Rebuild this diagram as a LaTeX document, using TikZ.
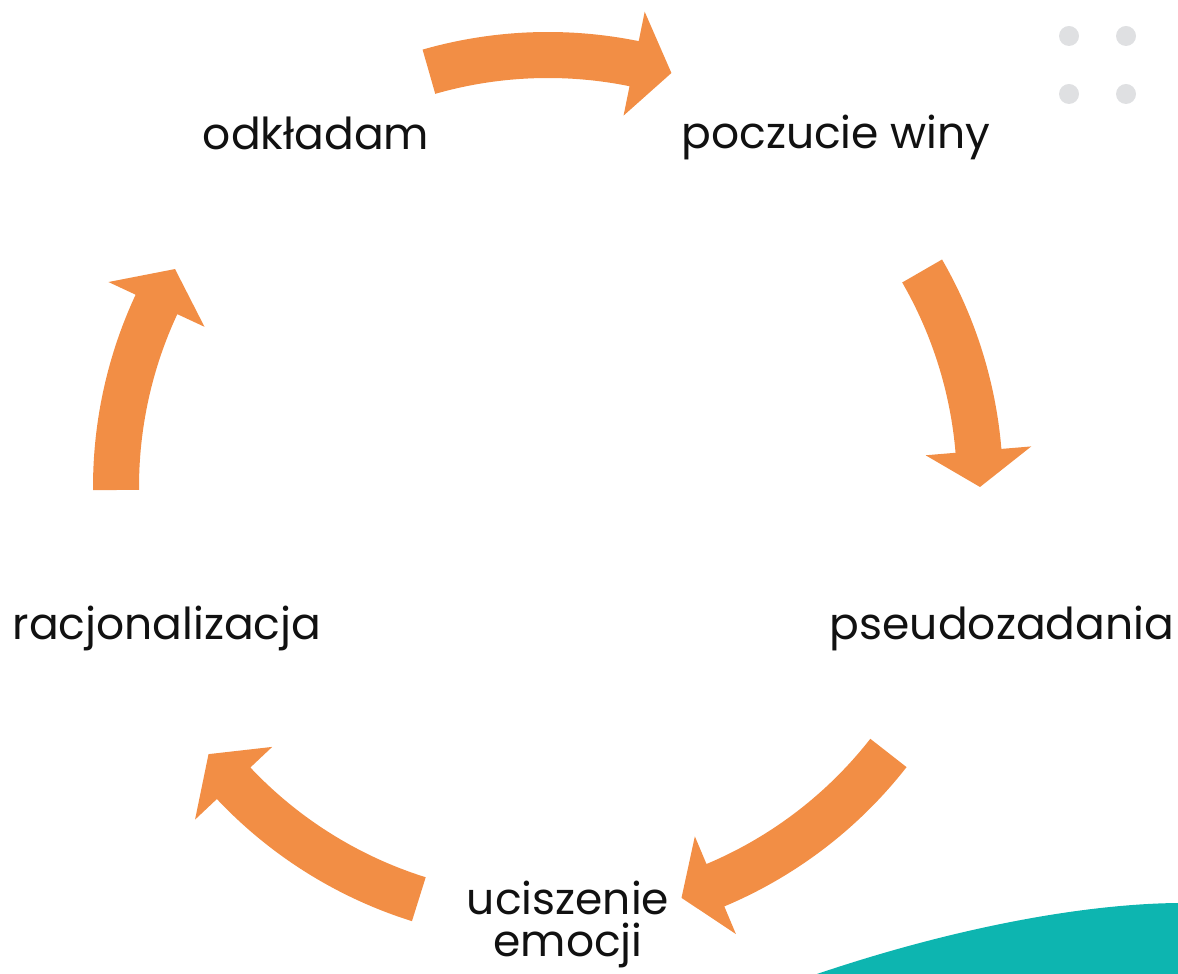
\documentclass[tikz,border=0pt]{standalone}
\usepackage{fontspec}
\setmainfont{Poppins}
\usepackage{tikz}
\definecolor{cycorange}{RGB}{242,142,69}
\definecolor{cycteal}{RGB}{13,181,176}
\definecolor{cycdot}{RGB}{223,224,226}
\definecolor{cyctext}{RGB}{17,17,17}
\tikzset{
  arw/.style ={fill=cycorange},
  dot/.style ={fill=cycdot},
  lab/.style ={font=\fontsize{44}{42}\selectfont, text=cyctext, inner sep=0pt, anchor=base},
}
\begin{document}
\begin{tikzpicture}[x=1pt,y=1pt]
  \useasboundingbox (0,0) rectangle (1178,974);
  \fill[cycteal] (817,0) .. controls (950,45) and (1080,70) .. (1178,71) -- (1178,0) -- cycle;
  \fill[dot] (1069,938) circle[radius=10];
  \fill[dot] (1126,938) circle[radius=10];
  \fill[dot] (1069,880) circle[radius=10];
  \fill[dot] (1126,880) circle[radius=10];
  \coordinate (c) at (548,487);
  \begin{scope}[shift={(c)}]
    \fill[arw] (106:455) arc[start angle=106,end angle=78.5,radius=455] -- (78.5:485) -- (73.4:432) -- (78.5:379) -- (78.5:409) arc[start angle=78.5,end angle=106,radius=409] -- cycle;
    \fill[arw] (30:455) arc[start angle=30,end angle=4.8,radius=455] -- (4.8:485) -- (0:432) -- (4.8:379) -- (4.8:409) arc[start angle=4.8,end angle=30,radius=409] -- cycle;
    \fill[arw] (-38:455) arc[start angle=-38,end angle=-67.2,radius=455] -- (-67.2:485) -- (-72:432) -- (-67.2:379) -- (-67.2:409) arc[start angle=-67.2,end angle=-38,radius=409] -- cycle;
    \fill[arw] (-107.4:455) arc[start angle=-107.4,end angle=-136.7,radius=455] -- (-136.7:485) -- (-141.8:432) -- (-136.7:379) -- (-136.7:409) arc[start angle=-136.7,end angle=-107.4,radius=409] -- cycle;
    \fill[arw] (180.4:455) arc[start angle=180.4,end angle=155,radius=455] -- (155:485) -- (149.7:432) -- (155:379) -- (155:409) arc[start angle=155,end angle=180.4,radius=409] -- cycle;
  \end{scope}
  \node[lab] (odk) at (316,824) {odkładam};
  \node[lab] (wina) at (836,825) {poczucie winy};
  \node[lab] (pseudo) at (1002,334) {pseudozadania};
  \node[lab, align=center] (ucisz) at (568,17) {uciszenie\\emocji};
  \node[lab] (racjo) at (167,334) {racjonalizacja};
\end{tikzpicture}
\end{document}
